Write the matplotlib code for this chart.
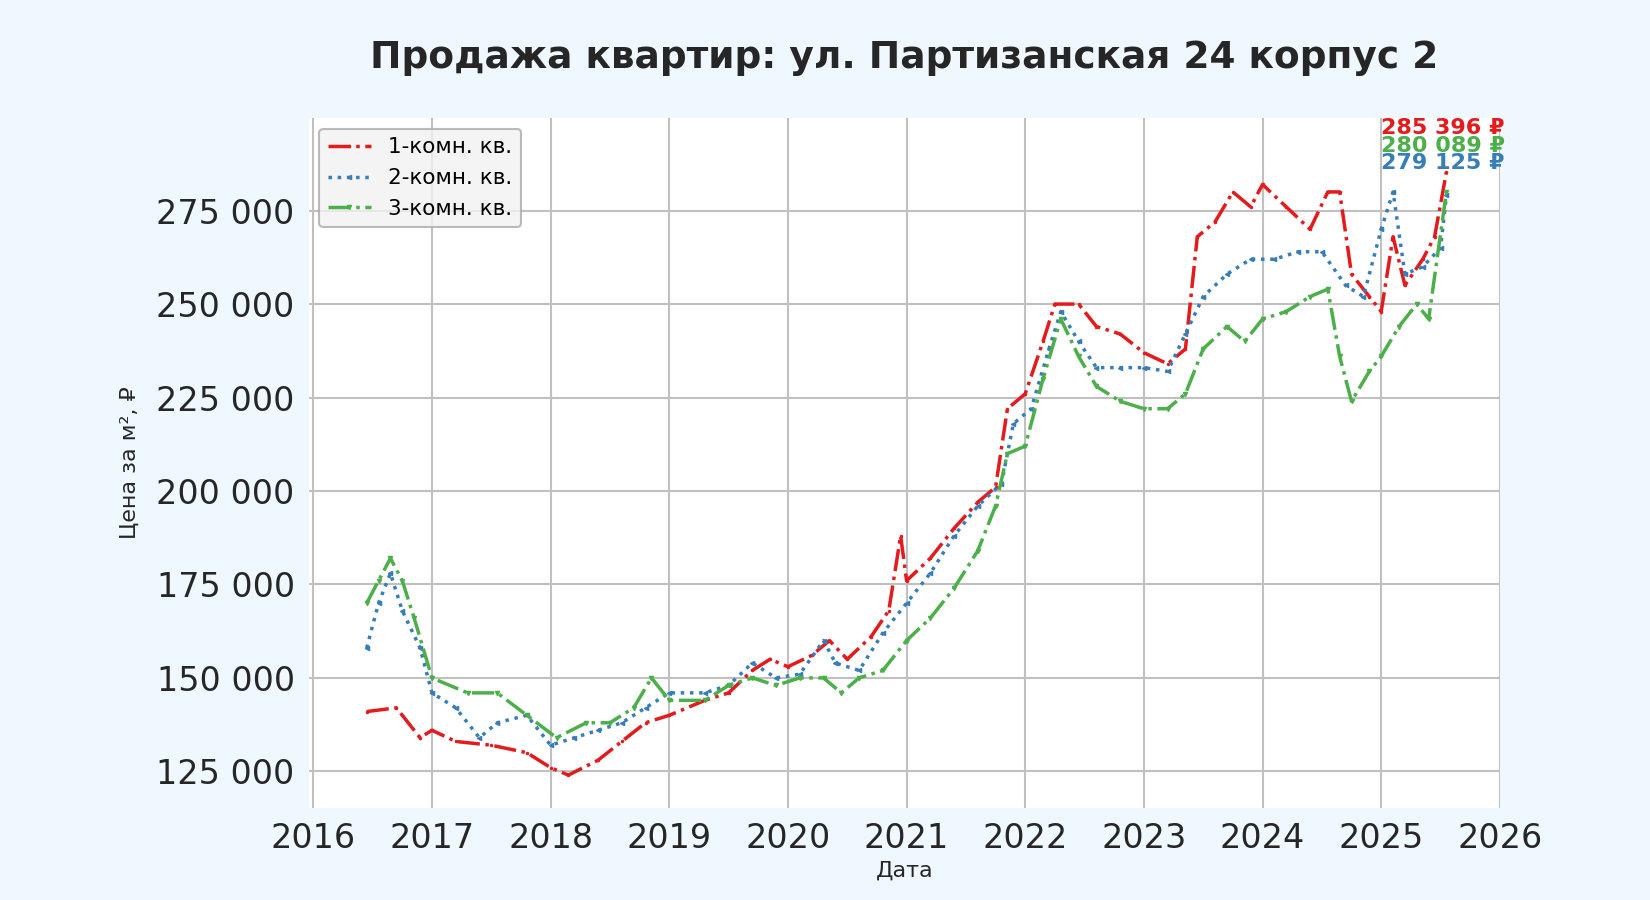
import matplotlib
matplotlib.use("Agg")
import matplotlib.pyplot as plt
from matplotlib.ticker import FuncFormatter

red_x = [2016.45,2016.7,2016.9,2017.0,2017.2,2017.5,2017.8,2018.0,2018.15,2018.4,2018.6,2018.8,2019.0,2019.3,2019.5,2019.7,2019.85,2020.0,2020.2,2020.35,2020.5,2020.7,2020.85,2020.95,2021.0,2021.2,2021.4,2021.6,2021.75,2021.85,2022.0,2022.15,2022.25,2022.45,2022.6,2022.8,2023.0,2023.2,2023.35,2023.45,2023.6,2023.75,2023.9,2024.0,2024.2,2024.4,2024.55,2024.65,2024.75,2024.9,2025.0,2025.1,2025.2,2025.35,2025.45,2025.55]
red_y = [141000,142000,134000,136000,133000,132000,130000,126000,124000,128000,133000,138000,140000,144000,146000,152000,155000,153000,156000,160000,155000,161000,168000,188000,176000,182000,190000,197000,201000,222000,226000,240000,250000,250000,244000,242000,237000,234000,238000,268000,272000,280000,276000,282000,276000,270000,280000,280000,258000,252000,248000,268000,255000,262000,268000,285396]

blue_x = [2016.45,2016.55,2016.65,2016.75,2016.9,2017.0,2017.2,2017.4,2017.55,2017.8,2018.0,2018.2,2018.4,2018.6,2018.8,2019.0,2019.3,2019.5,2019.7,2019.9,2020.1,2020.3,2020.4,2020.6,2020.8,2021.0,2021.2,2021.4,2021.6,2021.8,2021.9,2022.05,2022.2,2022.3,2022.45,2022.6,2022.8,2023.0,2023.2,2023.35,2023.5,2023.7,2023.9,2024.1,2024.3,2024.5,2024.7,2024.85,2025.0,2025.1,2025.2,2025.35,2025.5,2025.55]
blue_y = [158000,170000,178000,168000,158000,146000,142000,134000,138000,140000,132000,134000,136000,138000,142000,146000,146000,148000,154000,150000,151000,160000,154000,152000,162000,170000,178000,188000,196000,202000,218000,222000,238000,248000,240000,233000,233000,233000,232000,242000,252000,258000,262000,262000,264000,264000,255000,252000,270000,280000,258000,260000,265000,279125]

green_x = [2016.45,2016.55,2016.65,2016.75,2016.85,2017.0,2017.3,2017.55,2017.8,2018.05,2018.3,2018.5,2018.7,2018.85,2019.0,2019.3,2019.5,2019.7,2019.9,2020.1,2020.3,2020.45,2020.6,2020.8,2021.0,2021.2,2021.4,2021.6,2021.75,2021.85,2022.0,2022.15,2022.3,2022.45,2022.6,2022.8,2023.0,2023.2,2023.35,2023.5,2023.7,2023.85,2024.0,2024.2,2024.4,2024.55,2024.65,2024.75,2024.9,2025.0,2025.15,2025.3,2025.4,2025.55]
green_y = [170000,176000,182000,176000,166000,150000,146000,146000,140000,134000,138000,138000,142000,150000,144000,144000,148000,150000,148000,150000,150000,146000,150000,152000,160000,166000,174000,184000,196000,210000,212000,230000,246000,236000,228000,224000,222000,222000,226000,238000,244000,240000,246000,248000,252000,254000,236000,224000,232000,236000,244000,250000,246000,280089]

labels = ["1-комн. кв.", "2-комн. кв.", "3-комн. кв."]
colors = ["#e41a1c", "#377eb8", "#4daf4a"]
styles = ["-.", ":", "-."]
markers = [".", "<", "v"]
years = list(range(2016, 2027))

fig = plt.figure(figsize=(16.5, 9), dpi=100, facecolor="#f0f8ff")
ax = fig.add_axes([0.187, 0.102, 0.722, 0.767])
ax.set_facecolor("white")
series = [(red_x, red_y), (blue_x, blue_y), (green_x, green_y)]
for (x, y), lab, c, ls, m in zip(series, labels, colors, styles, markers):
    ax.plot(x, y, ls, color=c, marker=m, markersize=3, lw=2.5, label=lab)

ax.set_xlim(2015.96, 2026.0)
ax.set_ylim(115150, 299800)
ax.set_xticks(years)
ax.set_xticklabels([str(y) for y in years])
ax.set_yticks([125000, 150000, 175000, 200000, 225000, 250000, 275000])
ax.yaxis.set_major_formatter(FuncFormatter(lambda v, p: f"{int(v):,}".replace(",", " ")))
ax.grid(True, color="#c0c0c0", lw=1.5)
ax.set_axisbelow(True)
for s in ax.spines.values():
    s.set_visible(False)
ax.tick_params(axis="both", labelsize=24, colors="#262626", length=0, pad=10)
ax.set_xlabel("Дата", fontsize=16, color="#262626", labelpad=4)
ax.set_ylabel("Цена за м², ₽", fontsize=16, color="#262626", labelpad=12)
ax.set_title("Продажа квартир: ул. Партизанская 24 корпус 2", fontsize=27, fontweight="bold", color="#262626", pad=36)

leg = ax.legend(loc="upper left", fontsize=15.5, frameon=True, facecolor="#f2f2f2", edgecolor="#aaaaaa")
leg.get_frame().set_linewidth(1.5)

ends = [(red_y[-1], colors[0], 0.985), (green_y[-1], colors[2], 0.96), (blue_y[-1], colors[1], 0.935)]
for v, c, yf in ends:
    ax.text(2025.0, yf, f"{v:,} ₽".replace(",", " "), color=c, fontsize=16, fontweight="bold",
            transform=ax.get_xaxis_transform(), va="center")

fig.savefig("out.png", dpi=100, facecolor=fig.get_facecolor())
